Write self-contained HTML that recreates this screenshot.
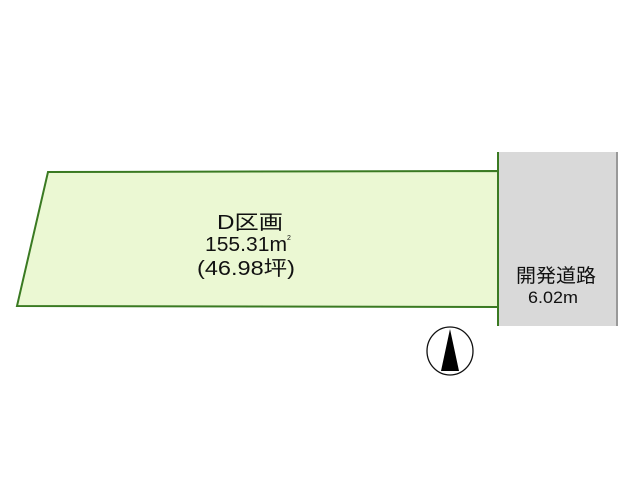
<!DOCTYPE html>
<html><head><meta charset="utf-8"><style>
html,body{margin:0;padding:0;background:#fff;}
svg text{font-family:"Liberation Sans","Noto Sans CJK JP",sans-serif;}
</style></head><body>
<svg width="640" height="480" viewBox="0 0 640 480" xmlns="http://www.w3.org/2000/svg">
<rect width="640" height="480" fill="#fff"/>
<rect x="499" y="152" width="118" height="174" fill="#d9d9d9"/>
<line x1="617" y1="152" x2="617" y2="326" stroke="#999" stroke-width="2"/>
<polygon points="48,172 498,171 498,307 17,306" fill="#ebf8d3" stroke="#3a7a22" stroke-width="2"/>
<line x1="498" y1="152" x2="498" y2="326" stroke="#3a7a22" stroke-width="2"/>
<g fill="#111" font-size="20">
<text x="217" y="229" textLength="66" lengthAdjust="spacingAndGlyphs">D区画</text>
<text x="205" y="251" textLength="82" lengthAdjust="spacingAndGlyphs">155.31m</text>
<text x="287" y="240" font-size="7">2</text>
<text x="197" y="275" textLength="98" lengthAdjust="spacingAndGlyphs">(46.98坪)</text>
</g>
<g fill="#111" font-size="19">
<text x="516" y="282" textLength="80" lengthAdjust="spacingAndGlyphs">開発道路</text>
<text x="528" y="303" font-size="17" textLength="50" lengthAdjust="spacingAndGlyphs">6.02m</text>
</g>
<ellipse cx="450" cy="351" rx="23" ry="24" fill="#fff" stroke="#111" stroke-width="1.3"/>
<polygon points="450,329 441,371 459,371" fill="#000"/>
</svg>
</body></html>
